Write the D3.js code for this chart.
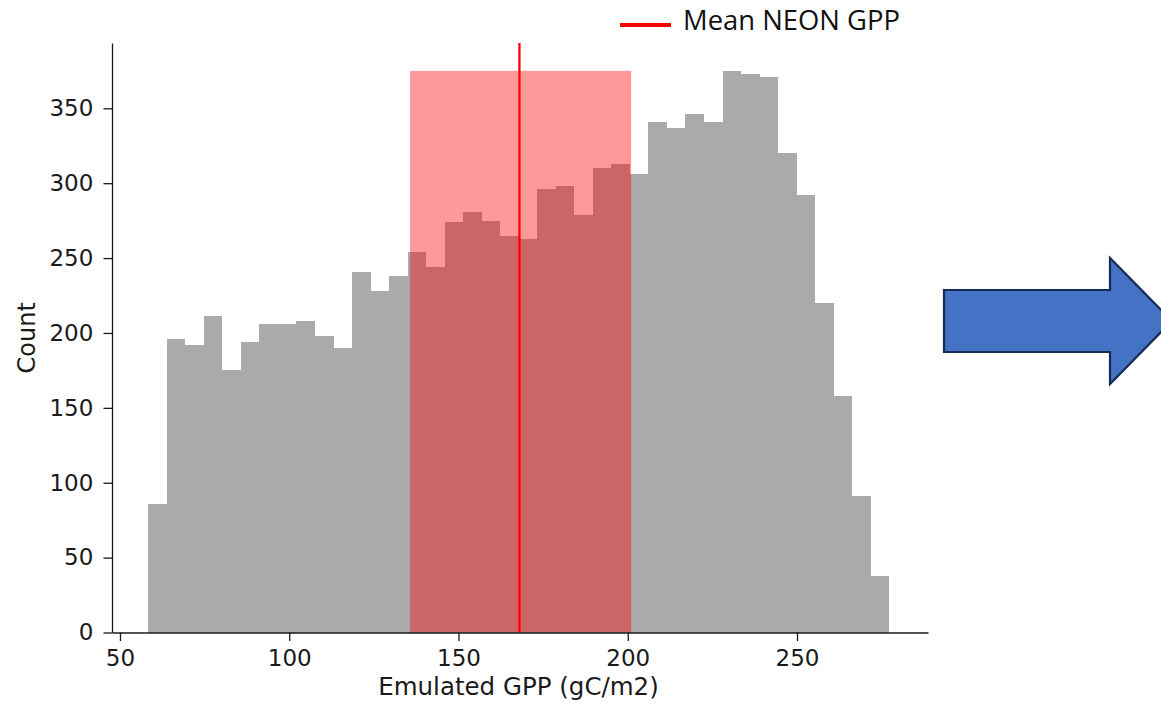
<!DOCTYPE html>
<html>
<head>
<meta charset="utf-8">
<script src="https://cdn.jsdelivr.net/npm/d3@7"></script>
<style>
  body { margin: 0; background: #fff; }
  svg { display: block; }
  .axis text { font-family: 'DejaVu Sans', sans-serif; font-size: 23px; fill: #1a1a1a; }
  .axis path, .axis line { stroke: #1a1a1a; stroke-width: 1.3; }
</style>
</head>
<body>
<div id="chart"></div>
<script>
// histogram counts (40 equal bins)
const binStart = 58.36
const binWidth = 5.472
const counts = [86, 196, 192, 211, 175, 194, 206, 206, 208, 198,
  190, 241, 228, 238, 254, 244, 274, 281, 275, 265,
  263, 296, 298, 279, 310, 313, 306, 341, 337, 346,
  341, 375, 373, 371, 320, 292, 220, 158, 91, 38]

// shaded band and mean line
const bandRange = [135.7, 201.0]
const bandTop = 375
const meanGpp = 168.0

const xTicks = [50, 100, 150, 200, 250]
const yTicks = [0, 50, 100, 150, 200, 250, 300, 350]
const xLabel = 'Emulated GPP (gC/m2)'
const yLabel = 'Count'
const legendLabel = 'Mean NEON GPP'

const width = 1161, height = 703
const plot = { left: 112, right: 928, top: 43, bottom: 632.5 }

const svg = d3.select('#chart').append('svg')
    .attr('width', width)
    .attr('height', height)

let x = d3.scaleLinear().domain([47.64, 288.7]).range([plot.left, plot.right])
let y = d3.scaleLinear().domain([0, 393.6]).range([plot.bottom, plot.top])

const bins = counts.map((c, i) => ({ x0: binStart + i * binWidth, x1: binStart + (i + 1) * binWidth, n: c }))

svg.append('g')
    .attr('shape-rendering', 'crispEdges')
    .selectAll('rect')
    .data(bins)
    .enter().append('rect')
    .attr('x', d => x(d.x0))
    .attr('y', d => y(d.n))
    .attr('width', d => x(d.x1) - x(d.x0))
    .attr('height', d => y(0) - y(d.n))
    .attr('fill', '#aaaaaa')

// translucent red band
svg.append('rect')
    .attr('x', x(bandRange[0]))
    .attr('y', y(bandTop))
    .attr('width', x(bandRange[1]) - x(bandRange[0]))
    .attr('height', y(0) - y(bandTop))
    .attr('fill', 'red')
    .attr('fill-opacity', 0.4)

svg.append('line')
    .attr('x1', x(meanGpp)).attr('x2', x(meanGpp))
    .attr('y1', plot.top).attr('y2', plot.bottom)
    .attr('stroke', 'red')
    .attr('stroke-width', 2.3)

// axes (left + bottom spines only)
svg.append('g')
    .attr('class', 'axis')
    .attr('transform', 'translate(0,' + plot.bottom + ')')
    .call(d3.axisBottom(x).tickValues(xTicks).tickSize(8.5).tickSizeOuter(0).tickPadding(8.7))

svg.append('g')
    .attr('class', 'axis')
    .attr('transform', 'translate(' + plot.left + ',0)')
    .call(d3.axisLeft(y).tickValues(yTicks).tickSize(8.5).tickSizeOuter(0).tickPadding(10.2))

svg.append('text')
    .attr('x', (plot.left + plot.right) / 2 - 1.5)
    .attr('y', 695)
    .attr('text-anchor', 'middle')
    .style('font-family', "'DejaVu Sans', sans-serif")
    .style('font-size', '24.5px')
    .attr('fill', '#1a1a1a')
    .text(xLabel)

svg.append('text')
    .attr('transform', 'translate(35,' + (plot.top + plot.bottom) / 2 + ') rotate(-90)')
    .attr('text-anchor', 'middle')
    .style('font-family', "'DejaVu Sans', sans-serif")
    .style('font-size', '24px')
    .attr('fill', '#1a1a1a')
    .text(yLabel)

// legend at top
svg.append('line')
    .attr('x1', 620).attr('x2', 671)
    .attr('y1', 25).attr('y2', 25)
    .attr('stroke', 'red')
    .attr('stroke-width', 4)

svg.append('text')
    .attr('x', 683)
    .attr('y', 30)
    .attr('textLength', 217)
    .attr('lengthAdjust', 'spacingAndGlyphs')
    .style('font-family', "'Open Sans', sans-serif")
    .style('font-size', '27px')
    .attr('fill', '#111')
    .text(legendLabel)

// blue block arrow on the right
const arrow = [[944, 290], [1110, 290], [1110, 258], [1172, 321], [1110, 384], [1110, 352], [944, 352]]
svg.append('path')
    .attr('d', d3.line()(arrow) + 'Z')
    .attr('fill', '#4472c4')
    .attr('stroke', '#172c55')
    .attr('stroke-width', 2.2)
    .attr('stroke-linejoin', 'miter')
</script>
</body>
</html>
